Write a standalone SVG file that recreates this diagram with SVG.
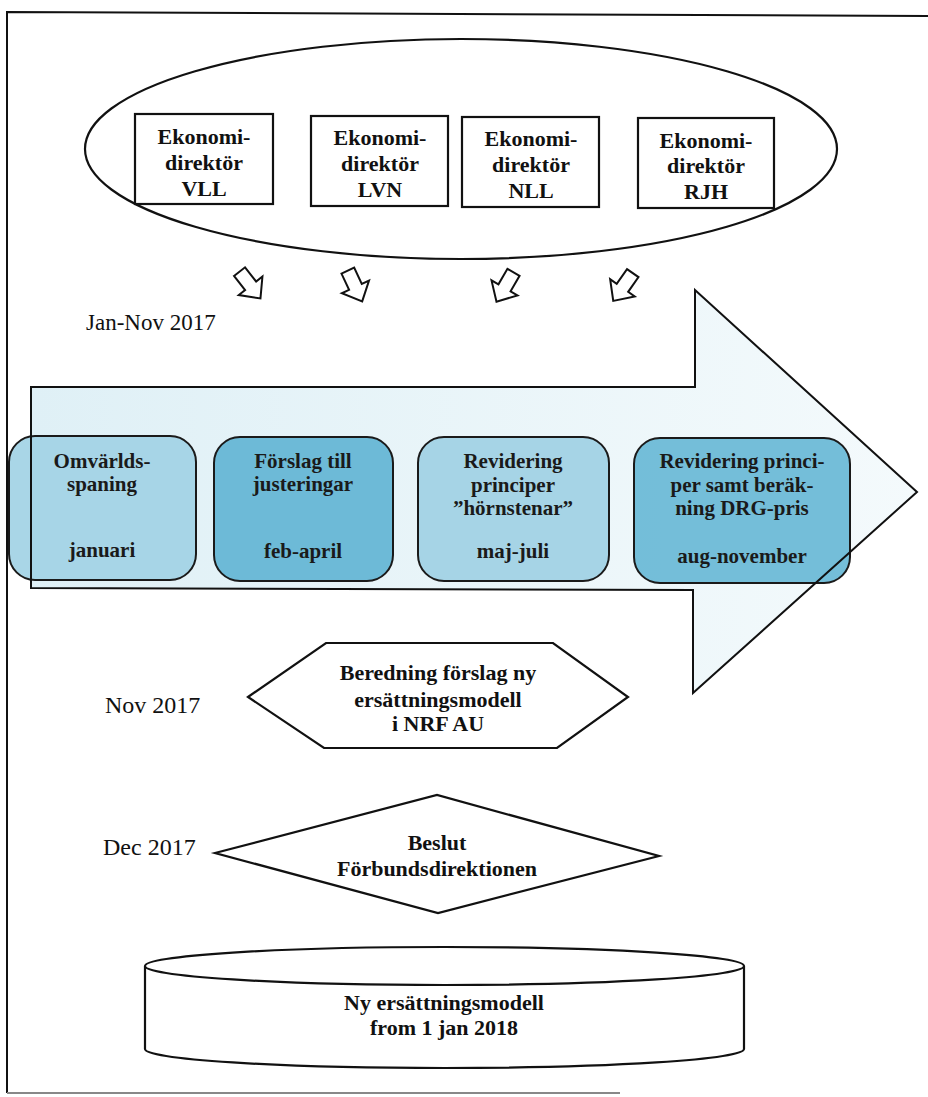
<svg xmlns="http://www.w3.org/2000/svg" width="928" height="1097" viewBox="0 0 928 1097">
<style>
.ln{fill:none;stroke:#111;stroke-width:2}
.wb{fill:#fff;stroke:#111;stroke-width:2.2}
.tb{font-family:"Liberation Serif","Times New Roman",serif;font-weight:bold;font-size:22px;text-anchor:middle;fill:#111}
.bx{font-family:"Liberation Serif","Times New Roman",serif;font-weight:bold;font-size:21px;text-anchor:middle;fill:#1a1a1a}
.lb{font-family:"Liberation Serif","Times New Roman",serif;font-size:24px;fill:#111}
.rb{stroke:#1a1a1a;stroke-width:2}
</style>
<defs>
<linearGradient id="ag" x1="0" y1="0" x2="1" y2="0">
<stop offset="0" stop-color="#dff0f6"/>
<stop offset="1" stop-color="#f4fafc"/>
</linearGradient>
<path id="sa" d="M-7,-17 L7,-17 L7,1 L15,1 L0,17 L-15,1 L-7,1 Z" fill="#fff" stroke="#111" stroke-width="2"/>
</defs>
<rect width="928" height="1097" fill="#fff"/>
<g id="frame">
<path d="M928,16 L7,12 L7,1093" class="ln"/>
<path d="M7,1093 L620,1093" fill="none" stroke="#888" stroke-width="2"/>
</g>
<g id="group-ellipse">
<ellipse cx="461" cy="149" rx="376" ry="110" class="wb"/>
</g>
<g id="node-vll">
<rect x="135" y="114" width="138" height="90" class="wb"/>
<text class="tb" x="204" y="144">Ekonomi-</text>
<text class="tb" x="204" y="170">direktör</text>
<text class="tb" x="204" y="196">VLL</text>
</g>
<g id="node-lvn">
<rect x="311" y="116" width="137" height="90" class="wb"/>
<text class="tb" x="380" y="145">Ekonomi-</text>
<text class="tb" x="380" y="171">direktör</text>
<text class="tb" x="380" y="197">LVN</text>
</g>
<g id="node-nll">
<rect x="462" y="117" width="137" height="90" class="wb"/>
<text class="tb" x="531" y="146">Ekonomi-</text>
<text class="tb" x="531" y="172">direktör</text>
<text class="tb" x="531" y="198">NLL</text>
</g>
<g id="node-rjh">
<rect x="638" y="118" width="136" height="90" class="wb"/>
<text class="tb" x="706" y="148">Ekonomi-</text>
<text class="tb" x="706" y="173">direktör</text>
<text class="tb" x="706" y="199">RJH</text>
</g>
<g id="connectors">
<use href="#sa" transform="translate(250,285) rotate(-38)"/>
<use href="#sa" transform="translate(355,286) rotate(-25)"/>
<use href="#sa" transform="translate(505,287) rotate(30)"/>
<use href="#sa" transform="translate(623,287) rotate(35)"/>
</g>
<g id="label-jan-nov">
<text class="lb" x="86" y="330" style="font-size:23px">Jan-Nov 2017</text>
</g>
<g id="timeline-arrow">
<path d="M31,387 L695,387 L695,290 L917,492 L693,693 L693,590 L31,588 Z" fill="url(#ag)" stroke="none"/>
</g>
<g id="node-omvarld">
<rect x="9" y="436" width="187" height="144" rx="26" fill="#a2d2e5" fill-opacity="0.92" class="rb"/>
<text class="bx" x="102" y="468">Omvärlds-</text>
<text class="bx" x="102" y="491">spaning</text>
<text class="bx" x="102" y="557">januari</text>
</g>
<g id="node-forslag">
<rect x="214" y="437" width="179" height="144" rx="26" fill="#6dbad7" class="rb"/>
<text class="bx" x="303" y="468">Förslag till</text>
<text class="bx" x="303" y="491">justeringar</text>
<text class="bx" x="303" y="558">feb-april</text>
</g>
<g id="node-revidering">
<rect x="418" y="437" width="191" height="144" rx="26" fill="#a6d4e6" class="rb"/>
<text class="bx" x="513" y="468">Revidering</text>
<text class="bx" x="513" y="492">principer</text>
<text class="bx" x="513" y="515">”hörnstenar”</text>
<text class="bx" x="513" y="558">maj-juli</text>
</g>
<g id="node-drg">
<rect x="634" y="438" width="216" height="145" rx="26" fill="#6dbad7" fill-opacity="0.95" class="rb"/>
<text class="bx" x="742" y="468">Revidering princi-</text>
<text class="bx" x="742" y="492">per samt beräk-</text>
<text class="bx" x="742" y="515">ning DRG-pris</text>
<text class="bx" x="742" y="563">aug-november</text>
</g>
<g id="timeline-arrow-outline">
<path d="M31,387 L695,387 L695,290 L917,492 L693,693 L693,590 L31,588 Z" class="ln"/>
</g>
<g id="label-nov">
<text class="lb" x="105" y="713">Nov 2017</text>
</g>
<g id="node-beredning">
<polygon points="248,697 326,643 553,643 628,697 557,748 324,748" class="wb"/>
<text class="tb" x="438" y="680">Beredning förslag ny</text>
<text class="tb" x="438" y="707">ersättningsmodell</text>
<text class="tb" x="438" y="731">i NRF AU</text>
</g>
<g id="label-dec">
<text class="lb" x="103" y="855">Dec 2017</text>
</g>
<g id="node-beslut">
<polygon points="215,853 437,795 659,856 438,913" class="wb"/>
<text class="tb" x="437" y="850">Beslut</text>
<text class="tb" x="437" y="876">Förbundsdirektionen</text>
</g>
<g id="node-ny-modell">
<path d="M145,966 L145,1049 A299.5,19 0 0 0 744,1049 L744,966" class="wb"/>
<ellipse cx="444.5" cy="966" rx="299.5" ry="19" class="wb"/>
<text class="tb" x="444" y="1010">Ny ersättningsmodell</text>
<text class="tb" x="444" y="1035">from 1 jan 2018</text>
</g>
</svg>
